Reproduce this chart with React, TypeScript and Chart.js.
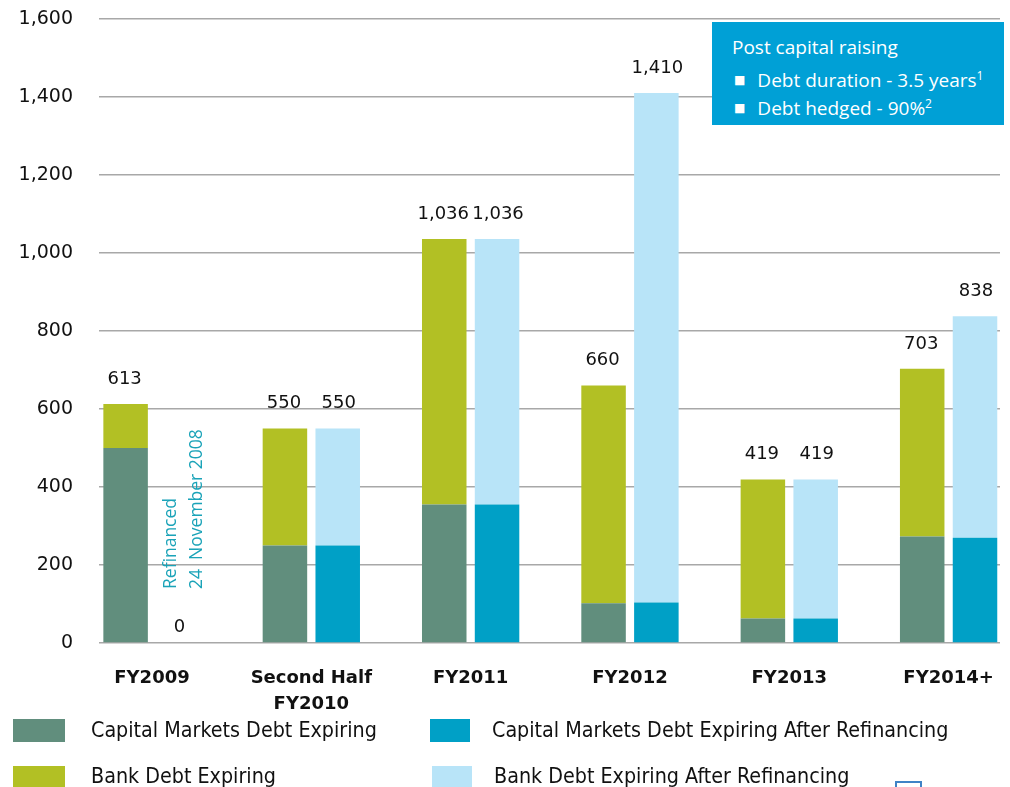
import React, { useEffect, useRef } from "react";
import { Chart, registerables } from "chart.js";

Chart.register(...registerables);

const categories: string[][] = [["FY2009"], ["Second Half", "FY2010"], ["FY2011"], ["FY2012"], ["FY2013"], ["FY2014+"]];
const capitalMarkets = [500, 250, 355, 102, 63, 273];
const bankDebt = [113, 300, 681, 558, 356, 430];
const capitalMarketsAfter = [0, 250, 355, 104, 63, 270];
const bankDebtAfter = [0, 300, 681, 1306, 356, 568];
const totalsBefore = [613, 550, 1036, 660, 419, 703];
const totalsAfter = [0, 550, 1036, 1410, 419, 838];
const yTicks = [0, 200, 400, 600, 800, 1000, 1200, 1400, 1600];

const COLORS = {
  cap: "#618E7D",
  bank: "#B2C024",
  capAfter: "#00A0C6",
  bankAfter: "#B8E4F8",
};

const labelsPlugin = {
  id: "totalsLabels",
  afterDatasetsDraw(chart: any) {
    const ctx = chart.ctx;
    const y = chart.scales.y;
    const metaA = chart.getDatasetMeta(2);
    const metaB = chart.getDatasetMeta(3);
    ctx.save();
    ctx.font = "18px 'DejaVu Sans'";
    ctx.fillStyle = "#111";
    ctx.textAlign = "center";
    ctx.textBaseline = "middle";
    totalsBefore.forEach((t, i) => {
      const el = metaA.data[i];
      ctx.fillText(t.toLocaleString("en-US"), el.x - 1, y.getPixelForValue(t) - 25);
    });
    totalsAfter.forEach((t, i) => {
      const el = metaB.data[i];
      const off = t === 0 ? 16 : 25;
      ctx.fillText(t.toLocaleString("en-US"), el.x + 1, y.getPixelForValue(t) - off);
    });
    // rotated note
    ctx.fillStyle = "#1AA3B8";
    ctx.font = "17.5px 'Open Sans'";
    ctx.textAlign = "left";
    ctx.textBaseline = "middle";
    const baseY = y.getPixelForValue(0) - 54;
    const xb = metaB.data[0].x;
    [["Refinanced", -7], ["24  November 2008", 19]].forEach(([txt, dx]: any) => {
      ctx.save();
      ctx.translate(xb + dx, baseY);
      ctx.rotate(-Math.PI / 2);
      ctx.fillText(txt, 0, 0);
      ctx.restore();
    });
    ctx.restore();
  },
};

function App() {
  const ref = useRef<HTMLCanvasElement>(null);
  useEffect(() => {
    const datasets = [
      { label: "Capital Markets Debt Expiring", data: capitalMarkets, color: COLORS.cap, stack: "a" },
      { label: "Capital Markets Debt Expiring After Refinancing", data: capitalMarketsAfter, color: COLORS.capAfter, stack: "b" },
      { label: "Bank Debt Expiring", data: bankDebt, color: COLORS.bank, stack: "a" },
      { label: "Bank Debt Expiring After Refinancing", data: bankDebtAfter, color: COLORS.bankAfter, stack: "b" },
    ].map((d) => ({
      label: d.label,
      data: d.data.map((v, i) => ({ x: i, y: v })),
      backgroundColor: d.color,
      borderWidth: 0,
      stack: d.stack,
      categoryPercentage: 0.6628,
      barPercentage: 0.843,
    }));
    const chart = new Chart(ref.current!, {
      type: "bar",
      data: { datasets },
      plugins: [labelsPlugin],
      options: {
        animation: false,
        responsive: false,
        layout: { padding: { top: 19, right: 10, left: 0, bottom: 0 } },
        plugins: { legend: { display: false }, tooltip: { enabled: false } },
        scales: {
          x: {
            type: "linear",
            offset: false,
            bounds: "data",
            min: -0.3327,
            max: 5.3226,
            grid: { display: false, drawTicks: false, offset: false },
            border: { display: false },
            afterBuildTicks: (s: any) => {
              s.ticks = categories.map((_, i) => ({ value: i }));
            },
            afterFit: (s: any) => {
              s.height = 144;
              s.paddingLeft = 0;
              s.paddingRight = 0;
            },
            ticks: {
              autoSkip: false,
              maxRotation: 0,
              padding: 22,
              color: "#111",
              font: { family: "'DejaVu Sans'", size: 18, weight: "bold", lineHeight: 1.45 },
              callback: (v: any) => categories[Math.round(v)],
            },
          },
          y: {
            stacked: true,
            min: 0,
            max: 1600,
            afterBuildTicks: (s: any) => {
              s.ticks = yTicks.map((v) => ({ value: v }));
            },
            afterFit: (s: any) => {
              s.width = 99;
              s.paddingTop = 0;
              s.paddingBottom = 0;
            },
            grid: { color: "#a8a8a8", lineWidth: 1.5, drawTicks: false },
            border: { display: false },
            ticks: {
              padding: 26,
              color: "#111",
              font: { family: "'DejaVu Sans'", size: 19 },
              callback: (v: any) => Number(v).toLocaleString("en-US"),
            },
          },
        },
      } as any,
    });
    return () => chart.destroy();
  }, []);

  const legendText: React.CSSProperties = {
    position: "absolute",
    fontFamily: "'DejaVu Sans Condensed', 'DejaVu Sans'",
    fontSize: 21.3,
    color: "#111",
    lineHeight: "24px",
    whiteSpace: "nowrap",
  };
  const sw = (left: number, top: number, w: number, color: string): React.CSSProperties => ({
    position: "absolute",
    left,
    top,
    width: w,
    height: 23,
    background: color,
  });
  const boxLine: React.CSSProperties = {
    position: "absolute",
    left: 20,
    fontFamily: "'Open Sans', 'DejaVu Sans'",
    fontSize: 19,
    color: "#fff",
    whiteSpace: "nowrap",
    lineHeight: "24px",
  };
  const bullet: React.CSSProperties = { fontSize: 12, position: "relative", top: -3, marginRight: 12, marginLeft: 2 };
  return (
    <div style={{ position: "absolute", left: 0, top: 0, width: 1010, height: 787, overflow: "hidden", background: "#fff" }}>
      <canvas ref={ref} width={1010} height={787} style={{ position: "absolute", left: 0, top: 0 }} />
      <div style={{ position: "absolute", left: 712, top: 22, width: 292, height: 103, background: "#00A0D6" }}>
        <div style={{ ...boxLine, top: 13 }}>Post capital raising</div>
        <div style={{ ...boxLine, top: 42 }}>
          <span style={bullet}>■</span>
          Debt duration - 3.5 years<sup style={{ fontSize: 12 }}>1</sup>
        </div>
        <div style={{ ...boxLine, top: 70 }}>
          <span style={bullet}>■</span>
          Debt hedged - 90%<sup style={{ fontSize: 12 }}>2</sup>
        </div>
      </div>
      <div style={sw(13, 719, 52, COLORS.cap)} />
      <div style={{ ...legendText, left: 91, top: 718 }}>Capital Markets Debt Expiring</div>
      <div style={sw(430, 719, 40, COLORS.capAfter)} />
      <div style={{ ...legendText, left: 492, top: 718 }}>Capital Markets Debt Expiring After Refinancing</div>
      <div style={sw(13, 766, 52, COLORS.bank)} />
      <div style={{ ...legendText, left: 91, top: 764 }}>Bank Debt Expiring</div>
      <div style={sw(432, 766, 40, COLORS.bankAfter)} />
      <div style={{ ...legendText, left: 494, top: 764 }}>Bank Debt Expiring After Refinancing</div>
      <div style={{ position: "absolute", left: 895, top: 781, width: 23, height: 20, border: "2px solid #3F83C6" }} />
    </div>
  );
}

export default App;
